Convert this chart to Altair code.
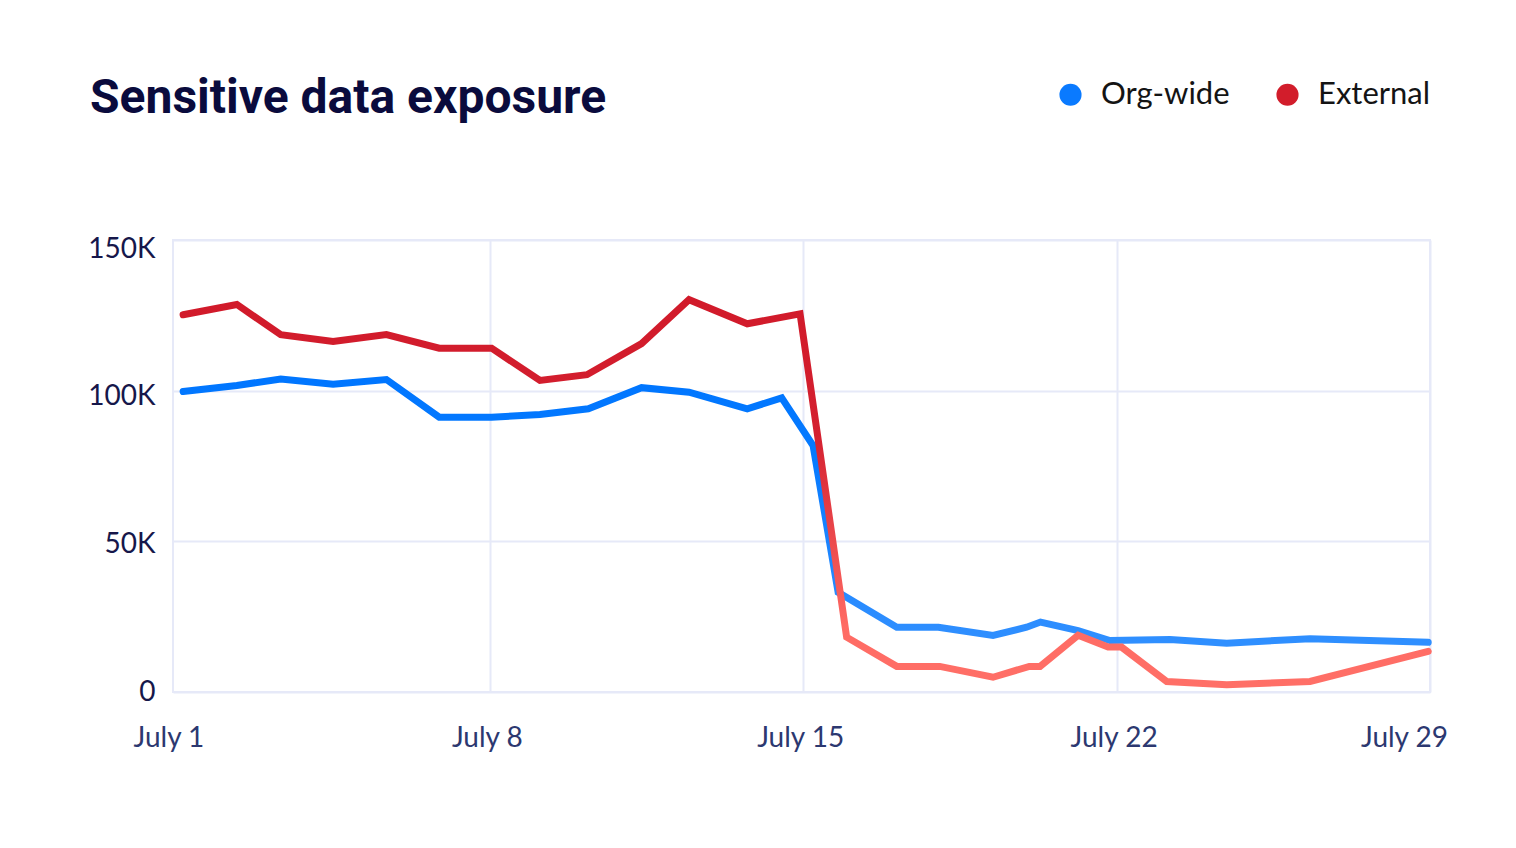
import altair as alt
import pandas as pd

# ---- data (day of July, value) ----
org_days = [1.15, 2.35, 3.33, 4.50, 5.69, 6.87, 8.04, 9.12, 10.20, 11.39, 12.45, 13.75,
            14.52, 15.22, 15.78, 17.09, 18.02, 19.24, 19.99, 20.30, 21.14, 21.85,
            23.19, 24.46, 26.32, 28.96]
org_values = [99700, 101700, 103900, 102100, 103700, 91200, 91200, 92100, 94000, 101000,
              99500, 94000, 97600, 81800, 33100, 21500, 21500, 18800, 21500, 23200,
              20400, 17100, 17400, 16200, 17700, 16500]

ext_days = [1.15, 2.35, 3.33, 4.50, 5.69, 6.87, 8.04, 9.12, 10.17, 11.39, 12.45, 13.75,
            14.93, 15.97, 17.09, 18.05, 19.24, 20.05, 20.29, 21.14, 21.81, 22.11,
            23.12, 24.46, 26.32, 28.96]
ext_values = [125200, 128600, 118600, 116300, 118600, 114100, 114100, 103400, 105300,
              115600, 130200, 122200, 125500, 18200, 8500, 8500, 4900, 8500, 8500,
              18800, 14900, 14900, 3500, 2400, 3500, 13500]

series_names = ["Org-wide", "External"]
legend_colors = ["#0A7AFF", "#D21D2B"]

x_ticks = [1, 8, 15, 22, 29]
x_tick_labels = ["July 1", "July 8", "July 15", "July 22", "July 29"]
y_ticks = [0, 50000, 100000, 150000]
y_tick_labels = ["0", "50K", "100K", "150K"]


def label_expr(ticks, labels):
    return "".join(f"datum.value == {t} ? '{l}' : " for t, l in zip(ticks, labels)) + "''"


org_df = pd.DataFrame({"day": org_days, "value": org_values, "series": series_names[0]})
ext_df = pd.DataFrame({"day": ext_days, "value": ext_values, "series": series_names[1]})
legend_df = pd.DataFrame({"series": series_names})

grid_color = "#E6E9F8"

x_enc = alt.X(
    "day:Q",
    scale=alt.Scale(domain=[0.924, 29], nice=False, zero=False),
    axis=alt.Axis(
        values=x_ticks,
        labelExpr=label_expr(x_ticks, x_tick_labels),
        title=None,
        domain=False,
        ticks=False,
        labelFont="Lato",
        labelFontSize=28,
        labelColor="#2C3870",
        labelPadding=32,
        labelFlush=False,
        labelOverlap=False,
        labelOffset={
            "condition": [
                {"test": "datum.value === 1", "value": -8},
                {"test": "datum.value === 29", "value": -26},
            ],
            "value": -3,
        },
        gridColor=grid_color,
        gridWidth=2,
        gridOpacity={"condition": {"test": "datum.value === 1", "value": 0}, "value": 1},
    ),
)
y_enc = alt.Y(
    "value:Q",
    scale=alt.Scale(domain=[0, 150000], nice=False),
    axis=alt.Axis(
        values=y_ticks,
        labelExpr=label_expr(y_ticks, y_tick_labels),
        title=None,
        domain=False,
        ticks=False,
        labelFont="Lato",
        labelFontSize=28,
        labelColor="#16174A",
        labelPadding=18,
        labelOffset={
            "condition": [
                {"test": "datum.value === 150000", "value": 9},
                {"test": "datum.value === 100000", "value": 6},
                {"test": "datum.value === 50000", "value": 3},
            ],
            "value": 0,
        },
        gridColor=grid_color,
        gridWidth=2,
    ),
)

blue_grad = alt.Gradient(
    gradient="linear",
    stops=[
        alt.GradientStop(color="#0076FF", offset=0),
        alt.GradientStop(color="#067AFF", offset=0.3),
        alt.GradientStop(color="#2C8DFF", offset=0.9),
        alt.GradientStop(color="#2F8FFF", offset=1),
    ],
    x1=0, x2=0, y1=0, y2=1,
)
red_grad = alt.Gradient(
    gradient="linear",
    stops=[
        alt.GradientStop(color="#D11A2A", offset=0),
        alt.GradientStop(color="#D42030", offset=0.35),
        alt.GradientStop(color="#FF6B64", offset=0.85),
        alt.GradientStop(color="#FF6F67", offset=1),
    ],
    x1=0, x2=0, y1=0, y2=1,
)

org_line = alt.Chart(org_df).mark_line(
    stroke=blue_grad, strokeWidth=7, strokeCap="round"
).encode(x=x_enc, y=y_enc)

ext_line = alt.Chart(ext_df).mark_line(
    stroke=red_grad, strokeWidth=7, strokeCap="round"
).encode(x=x_enc, y=y_enc)

legend_layer = alt.Chart(legend_df).mark_circle(opacity=1, size=490).encode(
    color=alt.Color(
        "series:N",
        scale=alt.Scale(domain=series_names, range=legend_colors),
        legend=alt.Legend(
            orient="none",
            legendX=882,
            legendY=-161,
            direction="horizontal",
            title=None,
            symbolType="circle",
            symbolSize=490,
            symbolStrokeWidth=0,
            symbolOpacity=1,
            labelFont="Lato",
            labelFontSize=31,
            labelColor="#141414",
            labelOffset=15,
            columnPadding=42,
            padding=0,
        ),
    )
).transform_filter("false")

chart = (
    alt.layer(org_line, ext_line, legend_layer)
    .properties(
        width=1257,
        height=452,
        title=alt.TitleParams(
            "Sensitive data exposure",
            anchor="start",
            frame="group",
            font="Roboto",
            fontSize=48,
            fontWeight="bold",
            color="#0A0B3D",
            dx=-83,
            offset=-44,
        ),
        autosize=alt.AutoSizeParams(type="none"),
        padding={"left": 165, "top": 232, "right": 62, "bottom": 130},
        background="white",
    )
    .configure_view(stroke=grid_color, strokeWidth=2)
)

chart.save("out.html", embed_options={"renderer": "svg", "actions": False})
